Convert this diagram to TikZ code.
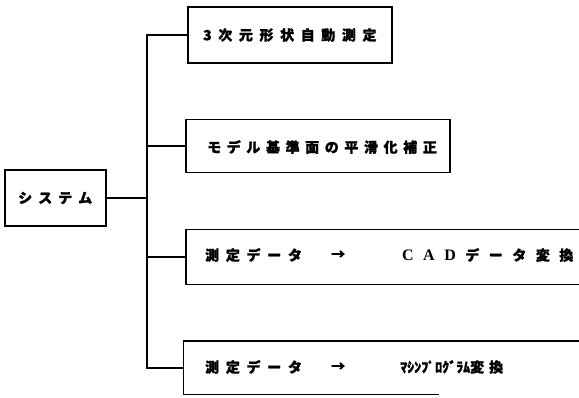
\documentclass[tikz,border=0pt]{standalone}
\usepackage{fontspec}
\newfontfamily\jp[BoldFeatures={FakeBold=1.2}]{Noto Sans CJK JP}
\newfontfamily\lser{Liberation Serif}
\makeatletter
\newcommand\spcd[2]{\@tfor\spcdx:=#2\do{\spcdx\kern#1}}
\makeatother
\newcommand\cadl[1]{{\lser\bfseries\fontsize{16}{16}\selectfont #1}}
\tikzset{
  boxn/.style={rectangle, inner sep=0pt, line width=1.5pt},
  conn/.style={line width=1.5pt},
  lbl/.style={anchor=west, inner sep=0pt, font=\jp\bfseries\fontsize{14}{14}\selectfont}
}
\begin{document}
\begin{tikzpicture}[x=1pt,y=-1pt]
\useasboundingbox (0,0) rectangle (579,398);
\fill[white] (0,0) rectangle (579,398);
% boxes
\node[boxn, draw, minimum width=101pt, minimum height=56pt] (sys) at (55.5,198) {};
\node[boxn, draw, minimum width=204pt, minimum height=56pt] (b1) at (290,35) {};
\node[boxn, draw, minimum width=264pt, minimum height=53pt] (b2) at (318,146) {};
\node[boxn, draw, minimum width=434pt, minimum height=55pt] (b3) at (403,257) {};
\node[boxn, minimum width=436pt, minimum height=52pt] (b4) at (402,368) {};
\draw[conn] (b4.north east) -- (b4.north west) -- (b4.south west) -- ([xshift=256pt]b4.south west);
% connectors
\coordinate (trunk) at (147,0);
\draw[conn] (b1.west) -- (b1.west -| trunk) -- (b4.west -| trunk) -- (b4.west);
\draw[conn] (b2.west) -- (b2.west -| trunk);
\draw[conn] (b3.west) -- (b3.west -| trunk);
\draw[conn] (sys.east) -- (sys.east -| trunk);
% texts
\node[lbl] (tsys) at (18,198) {\spcd{6pt}{システム}};
\node[lbl] (t1) at (203,35) {\spcd{6.6pt}{3次元形状自動測定}};
\node[lbl] (t2) at (207,147) {\spcd{5.6pt}{モデル基準面の平滑化補正}};
\node[lbl] (t3a) at (205,255) {\spcd{6.7pt}{測定データ}};
\node[lbl] (t3b) at (331,255) {→};
\node[lbl] (t3c) at (402,255) {\spcd{9.5pt}{{\cadl{C}}{\cadl{A}}{\cadl{D}}データ変換}};
\node[lbl] (t4a) at (205,367) {\spcd{6.7pt}{測定データ}};
\node[lbl] (t4b) at (331,367) {→};
\node[lbl] (t4c) at (400,367) {ﾏｼﾝﾌﾟﾛｸﾞﾗﾑ変\kern5pt 換};
\end{tikzpicture}
\end{document}
